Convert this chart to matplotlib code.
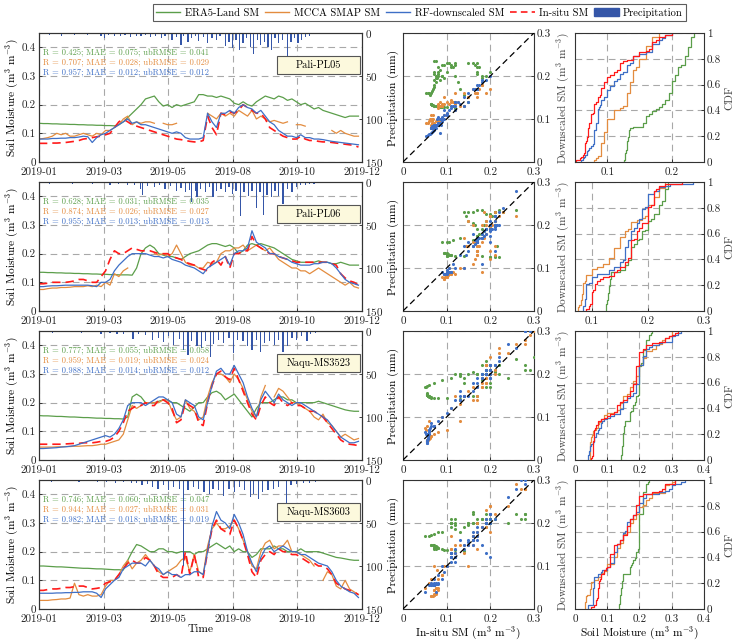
import numpy as np
import matplotlib
matplotlib.use("Agg")
import matplotlib.pyplot as plt
import matplotlib.dates as mdates
from matplotlib.patches import Patch, Rectangle
from matplotlib.lines import Line2D
from matplotlib.ticker import FuncFormatter

plt.rcParams['font.family'] = ['cmr10', 'DejaVu Serif']
plt.rcParams['mathtext.fontset'] = 'cm'
plt.rcParams['axes.formatter.use_mathtext'] = True
nan = np.nan

# ---- data (5-day samples) ----
dates = np.datetime64('2019-01-01') + np.arange(0, 365, 5)

stations = ['Pali-PL05', 'Pali-PL06', 'Naqu-MS3523', 'Naqu-MS3603']

era5_pl05 = [0.135, 0.134, 0.134, 0.133, 0.133, 0.132, 0.132, 0.131, 0.131, 0.130,
             0.130, 0.129, 0.129, 0.128, 0.128, 0.127, 0.127, 0.126, 0.130, 0.140,
             0.155, 0.170, 0.185, 0.200, 0.220, 0.225, 0.230, 0.210, 0.195, 0.200,
             0.190, 0.200, 0.195, 0.200, 0.205, 0.210, 0.235, 0.235, 0.230, 0.230,
             0.225, 0.230, 0.225, 0.220, 0.205, 0.200, 0.210, 0.200, 0.195, 0.210,
             0.220, 0.230, 0.225, 0.220, 0.230, 0.225, 0.215, 0.220, 0.210, 0.200,
             0.205, 0.195, 0.185, 0.190, 0.180, 0.175, 0.170, 0.165, 0.160, 0.155,
             0.160, 0.160, 0.160]
rf_pl05 = [0.080, 0.080, 0.080, 0.082, 0.082, 0.083, 0.083, 0.085, 0.085, 0.087,
           0.090, 0.088, 0.068, 0.085, 0.095, 0.100, 0.110, 0.120, 0.130, 0.140,
           0.150, 0.135, 0.140, 0.130, 0.130, 0.125, 0.120, 0.115, 0.110, 0.105,
           0.100, 0.105, 0.100, 0.085, 0.080, 0.080, 0.080, 0.085, 0.170, 0.140,
           0.120, 0.170, 0.170, 0.180, 0.170, 0.190, 0.200, 0.190, 0.185, 0.170,
           0.180, 0.160, 0.140, 0.130, 0.110, 0.100, 0.090, 0.090, 0.085, 0.095,
           0.085, 0.085, 0.080, 0.080, 0.078, 0.075, 0.072, 0.070, 0.068, 0.066,
           0.064, 0.062, 0.060]
insitu_pl05 = [0.065, 0.065, 0.065, 0.066, 0.066, 0.067, 0.068, 0.070, 0.072, 0.075,
               0.080, 0.082, 0.085, 0.088, 0.090, 0.095, 0.100, 0.120, 0.140, 0.150,
               0.140, 0.130, 0.125, 0.120, 0.115, 0.110, 0.105, 0.100, 0.095, 0.090,
               0.085, 0.080, 0.078, 0.075, 0.072, 0.070, 0.070, 0.075, 0.160, 0.120,
               0.095, 0.170, 0.165, 0.175, 0.170, 0.180, 0.200, 0.190, 0.180, 0.170,
               0.170, 0.150, 0.120, 0.110, 0.100, 0.090, 0.085, 0.080, 0.080, 0.090,
               0.080, 0.075, 0.075, 0.072, 0.070, 0.070, 0.068, 0.066, 0.064, 0.062,
               0.060, 0.058, 0.052]
mcca_pl05 = [0.080, 0.082, 0.085, 0.090, 0.100, 0.095, 0.100, 0.090, 0.090, 0.095,
             0.100, 0.095, 0.090, 0.100, 0.095, 0.110, 0.110, 0.120, 0.130, 0.150,
             0.160, 0.130, 0.140, 0.135, 0.140, 0.140, 0.135, nan, 0.135, 0.130,
             0.130, 0.135, nan, nan, nan, nan, nan, nan, 0.170, 0.160,
             0.150, 0.170, 0.160, 0.170, 0.160, 0.180, 0.170, 0.160, 0.180, 0.150,
             0.160, 0.150, 0.140, 0.145, 0.140, 0.135, 0.140, nan, 0.130, 0.130,
             0.125, nan, nan, nan, nan, nan, 0.110, 0.100, 0.110, 0.100,
             0.095, 0.090, 0.090]

era5_pl06 = [0.135, 0.135, 0.134, 0.134, 0.133, 0.133, 0.132, 0.132, 0.131, 0.131,
             0.130, 0.130, 0.129, 0.129, 0.128, 0.128, 0.127, 0.127, 0.126, 0.126,
             0.126, 0.125, 0.150, 0.200, 0.220, 0.230, 0.220, 0.200, 0.195, 0.190,
             0.190, 0.185, 0.180, 0.190, 0.200, 0.205, 0.210, 0.220, 0.230, 0.235,
             0.235, 0.230, 0.225, 0.230, 0.220, 0.200, 0.210, 0.230, 0.235, 0.230,
             0.235, 0.230, 0.225, 0.220, 0.210, 0.200, 0.190, 0.180, 0.175, 0.170,
             0.170, 0.170, 0.170, 0.175, 0.170, 0.170, 0.165, 0.165, 0.170, 0.165,
             0.160, 0.160, 0.160]
rf_pl06 = [0.085, 0.085, 0.087, 0.088, 0.088, 0.089, 0.090, 0.090, 0.090, 0.090,
           0.090, 0.090, 0.088, 0.085, 0.100, 0.100, 0.110, 0.140, 0.160, 0.175,
           0.190, 0.200, 0.200, 0.200, 0.200, 0.195, 0.190, 0.190, 0.185, 0.190,
           0.180, 0.175, 0.170, 0.160, 0.155, 0.150, 0.140, 0.130, 0.150, 0.160,
           0.170, 0.180, 0.190, 0.160, 0.200, 0.210, 0.210, 0.220, 0.280, 0.240,
           0.230, 0.220, 0.200, 0.200, 0.190, 0.185, 0.180, 0.170, 0.165, 0.160,
           0.160, 0.160, 0.165, 0.165, 0.170, 0.170, 0.165, 0.150, 0.130, 0.110,
           0.100, 0.095, 0.090]
insitu_pl06 = [0.095, 0.095, 0.097, 0.100, 0.100, 0.100, 0.100, 0.102, 0.105, 0.110,
               0.110, 0.105, 0.100, 0.100, 0.120, 0.140, 0.180, 0.210, 0.200, 0.200,
               0.210, 0.220, 0.215, 0.210, 0.210, 0.210, 0.205, 0.200, 0.200, 0.200,
               0.190, 0.185, 0.180, 0.170, 0.165, 0.160, 0.150, 0.145, 0.140, 0.170,
               0.180, 0.160, 0.190, 0.150, 0.200, 0.200, 0.210, 0.210, 0.260, 0.230,
               0.220, 0.210, 0.200, 0.200, 0.190, 0.185, 0.180, 0.175, 0.170, 0.170,
               0.170, 0.170, 0.170, 0.170, 0.170, 0.170, 0.165, 0.160, 0.130, 0.115,
               0.105, 0.100, 0.090]
mcca_pl06 = [0.075, 0.075, 0.078, 0.080, 0.080, 0.082, 0.082, 0.083, 0.085, 0.085,
             0.085, 0.088, 0.085, 0.090, 0.085, 0.100, 0.090, 0.130, 0.120, 0.140,
             0.150, nan, nan, nan, nan, nan, 0.200, 0.195, 0.200, 0.190,
             0.200, 0.230, 0.200, 0.170, 0.160, 0.160, 0.150, 0.150, 0.170, 0.165,
             0.170, 0.200, 0.210, 0.210, 0.220, 0.220, 0.230, 0.210, 0.220, 0.230,
             0.220, 0.210, 0.220, 0.200, 0.180, 0.170, 0.160, 0.150, 0.150, 0.140,
             0.140, 0.130, 0.140, 0.150, 0.140, 0.130, 0.120, 0.110, 0.100, 0.090,
             0.100, 0.085, 0.080]

era5_ms3523 = [0.155, 0.154, 0.154, 0.153, 0.152, 0.152, 0.151, 0.150, 0.150, 0.149,
               0.148, 0.148, 0.147, 0.146, 0.146, 0.145, 0.145, 0.144, 0.144, 0.143,
               0.150, 0.220, 0.230, 0.220, 0.200, 0.200, 0.200, 0.205, 0.210, 0.210,
               0.200, 0.200, 0.190, 0.180, 0.170, 0.185, 0.200, 0.200, 0.220, 0.235,
               0.240, 0.230, 0.210, 0.220, 0.230, 0.210, 0.190, 0.170, 0.150, 0.180,
               0.200, 0.200, 0.200, 0.210, 0.220, 0.220, 0.210, 0.210, 0.200, 0.200,
               0.200, 0.200, 0.200, 0.205, 0.200, 0.195, 0.190, 0.185, 0.180, 0.175,
               0.172, 0.170, 0.170]
rf_ms3523 = [0.040, 0.040, 0.041, 0.042, 0.043, 0.045, 0.046, 0.048, 0.050, 0.055,
             0.060, 0.065, 0.070, 0.075, 0.080, 0.085, 0.080, 0.090, 0.110, 0.140,
             0.190, 0.200, 0.200, 0.200, 0.190, 0.200, 0.210, 0.220, 0.220, 0.210,
             0.200, 0.160, 0.150, 0.210, 0.200, 0.190, 0.150, 0.140, 0.200, 0.260,
             0.310, 0.320, 0.300, 0.300, 0.330, 0.300, 0.270, 0.220, 0.180, 0.150,
             0.210, 0.240, 0.220, 0.200, 0.230, 0.210, 0.200, 0.190, 0.200, 0.200,
             0.190, 0.180, 0.170, 0.160, 0.150, 0.140, 0.120, 0.100, 0.080, 0.070,
             0.060, 0.060, 0.065]
insitu_ms3523 = [0.055, 0.055, 0.055, 0.055, 0.055, 0.055, 0.056, 0.057, 0.058, 0.058,
                 0.060, 0.060, 0.060, 0.062, 0.065, 0.065, 0.070, 0.080, 0.100, 0.130,
                 0.170, 0.180, 0.190, 0.190, 0.200, 0.190, 0.190, 0.210, 0.210, 0.200,
                 0.180, 0.130, 0.140, 0.200, 0.190, 0.180, 0.130, 0.120, 0.200, 0.260,
                 0.300, 0.310, 0.290, 0.280, 0.320, 0.280, 0.240, 0.200, 0.160, 0.140,
                 0.190, 0.220, 0.200, 0.190, 0.220, 0.200, 0.190, 0.200, 0.190, 0.190,
                 0.180, 0.170, 0.170, 0.160, 0.150, 0.130, 0.110, 0.090, 0.070, 0.060,
                 0.055, 0.053, 0.050]
mcca_ms3523 = [0.045, 0.045, 0.045, 0.045, 0.046, 0.046, 0.047, 0.047, 0.048, 0.048,
               0.049, 0.050, 0.050, 0.052, 0.055, 0.055, 0.060, 0.065, 0.070, 0.090,
               0.140, 0.190, 0.180, 0.190, 0.200, 0.200, 0.200, 0.200, 0.210, 0.210,
               0.170, 0.140, 0.150, 0.210, 0.180, 0.170, 0.140, 0.150, 0.220, 0.270,
               0.300, 0.300, 0.290, 0.270, 0.300, 0.280, 0.250, 0.210, 0.170, 0.150,
               0.220, 0.260, nan, 0.220, 0.250, 0.240, 0.220, 0.200, 0.200, 0.190,
               0.180, 0.170, 0.150, 0.140, 0.160, 0.130, 0.120, 0.100, 0.080, 0.090,
               0.080, 0.070, 0.075]

era5_ms3603 = [0.150, 0.150, 0.149, 0.148, 0.147, 0.147, 0.146, 0.145, 0.144, 0.143,
               0.142, 0.142, 0.141, 0.140, 0.140, 0.139, 0.138, 0.137, 0.137, 0.136,
               0.170, 0.200, 0.225, 0.220, 0.210, 0.200, 0.200, 0.210, 0.210, 0.200,
               0.200, 0.195, 0.200, 0.200, 0.200, 0.190, 0.200, 0.200, 0.210, 0.220,
               0.230, 0.220, 0.210, 0.220, 0.200, 0.210, 0.200, 0.200, 0.180, 0.190,
               0.210, 0.210, 0.210, 0.220, 0.210, 0.210, 0.200, 0.200, 0.200, 0.210,
               0.200, 0.200, 0.200, 0.200, 0.195, 0.190, 0.185, 0.180, 0.178, 0.175,
               0.172, 0.170, 0.170]
rf_ms3603 = [0.055, 0.055, 0.055, 0.055, 0.056, 0.056, 0.057, 0.057, 0.058, 0.058,
             0.060, 0.060, 0.060, 0.055, 0.040, 0.070, 0.085, 0.100, 0.110, 0.140,
             0.150, 0.160, 0.160, 0.160, 0.150, 0.170, 0.150, 0.140, 0.120, 0.130,
             0.120, 0.120, 0.110, 0.120, 0.120, 0.130, 0.130, 0.120, 0.200, 0.290,
             0.340, 0.310, 0.300, 0.280, 0.330, 0.300, 0.260, 0.200, 0.160, 0.130,
             0.180, 0.210, 0.220, 0.200, 0.210, 0.220, 0.210, 0.200, 0.200, 0.190,
             0.190, 0.180, 0.170, 0.160, 0.155, 0.150, 0.130, 0.100, 0.080, 0.070,
             0.060, 0.055, 0.040]
insitu_ms3603 = [0.065, 0.065, 0.068, 0.070, 0.070, 0.072, 0.075, 0.075, 0.078, 0.080,
                 0.080, 0.075, 0.070, 0.072, 0.075, 0.090, 0.095, 0.100, 0.120, 0.140,
                 0.160, 0.170, 0.160, 0.160, 0.180, 0.170, 0.150, 0.120, 0.110, 0.110,
                 0.110, 0.120, 0.110, 0.200, 0.120, 0.190, 0.110, 0.110, 0.200, 0.280,
                 0.310, 0.280, 0.270, 0.260, 0.310, 0.280, 0.240, 0.190, 0.130, 0.110,
                 0.170, 0.190, 0.200, 0.190, 0.210, 0.200, 0.200, 0.190, 0.190, 0.180,
                 0.170, 0.160, 0.160, 0.150, 0.150, 0.140, 0.120, 0.090, 0.080, 0.070,
                 0.065, 0.060, 0.050]
mcca_ms3603 = [0.030, 0.030, 0.030, 0.032, 0.033, 0.035, 0.035, 0.038, 0.090, 0.050,
               0.045, 0.050, 0.045, 0.045, 0.050, 0.080, 0.100, 0.100, 0.120, 0.150,
               0.170, 0.140, 0.160, 0.170, 0.190, 0.170, 0.150, 0.130, 0.120, 0.130,
               0.140, 0.150, 0.170, 0.180, 0.130, 0.190, 0.130, 0.120, 0.220, 0.280,
               0.300, 0.280, 0.280, 0.290, 0.310, 0.280, 0.240, 0.200, 0.150, 0.140,
               0.200, 0.230, 0.240, 0.210, 0.220, 0.220, 0.240, 0.200, 0.200, 0.190,
               0.180, 0.170, 0.150, nan, 0.100, 0.130, 0.120, 0.080, 0.070, 0.100,
               0.070, 0.060, 0.050]

# precipitation: day of year (0 = 1 Jan) and amount in mm
rain_day_pl05 = [8, 12, 18, 25, 30, 40, 47, 55, 62, 70, 74, 78, 85, 92, 97, 103, 110, 115, 120, 126,
                 131, 138, 142, 150, 155, 160, 163, 168, 172, 176, 180, 185, 190, 195, 200, 204, 210,
                 214, 218, 222, 226, 230, 234, 238, 242, 246, 250, 254, 258, 262, 266, 270, 274, 280,
                 284, 288, 292, 296, 300, 305]
rain_mm_pl05 = [1, 2, 1, 3, 1, 2, 1, 2, 1, 3, 6, 2, 3, 4, 2, 5, 3, 4, 2, 5,
                3, 6, 3, 8, 5, 14, 4, 10, 6, 4, 9, 5, 12, 6, 8, 4, 15,
                10, 18, 8, 20, 12, 6, 16, 24, 8, 14, 10, 16, 20, 6, 12, 8, 27,
                10, 6, 12, 8, 5, 3]
rain_day_pl06 = [5, 12, 20, 28, 38, 50, 60, 68, 80, 90, 100, 108, 114, 117, 122, 130, 136, 142, 148,
                 155, 160, 165, 170, 172, 176, 178, 182, 188, 192, 196, 200, 205, 210, 214, 218, 222,
                 227, 231, 236, 240, 245, 249, 253, 257, 262, 266, 270, 275, 280, 285, 290, 295, 300,
                 305, 310]
rain_mm_pl06 = [1, 2, 1, 1, 2, 1, 2, 1, 3, 2, 4, 3, 8, 15, 5, 6, 4, 8, 5,
                10, 7, 12, 9, 23, 10, 18, 8, 12, 6, 17, 10, 8, 12, 6, 14, 10,
                40, 12, 16, 10, 30, 12, 38, 15, 18, 10, 16, 25, 8, 12, 6, 4, 3,
                2, 2]
rain_day_ms3523 = [6, 15, 25, 35, 48, 58, 70, 80, 88, 95, 106, 112, 120, 128, 135, 140, 146, 152,
                   158, 163, 168, 172, 178, 183, 188, 193, 197, 202, 208, 214, 219, 224, 230, 235,
                   240, 245, 250, 254, 260, 265, 270, 275, 280, 285, 290, 296, 302, 306, 312]
rain_mm_ms3523 = [1, 2, 1, 1, 2, 1, 3, 2, 4, 3, 9, 4, 5, 10, 8, 13, 6, 16,
                  9, 22, 28, 12, 18, 20, 12, 30, 15, 10, 14, 8, 26, 10, 12, 18,
                  22, 10, 24, 14, 12, 16, 10, 24, 18, 8, 10, 6, 12, 4, 2]
rain_day_ms3603 = [5, 14, 24, 34, 45, 55, 66, 76, 86, 95, 104, 110, 116, 122, 128, 134, 140, 146,
                   152, 158, 163, 168, 174, 180, 186, 192, 196, 202, 208, 214, 220, 226, 232, 238,
                   242, 247, 252, 258, 264, 270, 279, 284, 290, 298, 305, 312, 325]
rain_mm_ms3603 = [1, 2, 1, 1, 2, 1, 2, 2, 3, 2, 4, 3, 6, 5, 8, 10, 6, 12,
                  8, 10, 100, 12, 8, 10, 14, 16, 10, 12, 18, 10, 14, 8, 12, 20,
                  16, 22, 14, 12, 10, 8, 27, 6, 5, 4, 3, 2, 1]

stats = [
    ['R = 0.425; MAE = 0.075; ubRMSE = 0.041', 'R = 0.707; MAE = 0.028; ubRMSE = 0.029',
     'R = 0.957; MAE = 0.012; ubRMSE = 0.012'],
    ['R = 0.628; MAE = 0.031; ubRMSE = 0.035', 'R = 0.874; MAE = 0.026; ubRMSE = 0.027',
     'R = 0.955; MAE = 0.013; ubRMSE = 0.013'],
    ['R = 0.777; MAE = 0.055; ubRMSE = 0.058', 'R = 0.959; MAE = 0.019; ubRMSE = 0.024',
     'R = 0.988; MAE = 0.014; ubRMSE = 0.012'],
    ['R = 0.746; MAE = 0.060; ubRMSE = 0.047', 'R = 0.944; MAE = 0.027; ubRMSE = 0.031',
     'R = 0.982; MAE = 0.018; ubRMSE = 0.019'],
]

era5_all = [era5_pl05, era5_pl06, era5_ms3523, era5_ms3603]
mcca_all = [mcca_pl05, mcca_pl06, mcca_ms3523, mcca_ms3603]
rf_all = [rf_pl05, rf_pl06, rf_ms3523, rf_ms3603]
insitu_all = [insitu_pl05, insitu_pl06, insitu_ms3523, insitu_ms3603]
rain_days = [rain_day_pl05, rain_day_pl06, rain_day_ms3523, rain_day_ms3603]
rain_mm = [rain_mm_pl05, rain_mm_pl06, rain_mm_ms3523, rain_mm_ms3603]

cdf_xlim = [(0.05, 0.25), (0.07, 0.3), (0, 0.4), (0, 0.4)]
cdf_xticks = [[0.1, 0.2], [0.1, 0.2, 0.3], [0, 0.1, 0.2, 0.3, 0.4], [0, 0.1, 0.2, 0.3, 0.4]]

# ---- style ----
c_era5 = '#5b9e4a'
c_mcca = '#e38c3f'
c_rf = '#3e6fc6'
c_insitu = '#ff1a1a'
c_rain = '#3556a8'
grid_kw = dict(color='#a8a8a8', linestyle=(0, (6, 4)), linewidth=0.8)
tick_fs = 8
lab_fs = 8.2
fmt = FuncFormatter(lambda v, p: '%g' % round(v, 3))

fig = plt.figure(figsize=(7.37, 6.42), dpi=100)
bottoms = [0.7477, 0.5156, 0.2835, 0.0514]
h = 0.2009

t0 = np.datetime64('2019-01-01')
t1 = np.datetime64('2019-12-31')
xticks = np.linspace(mdates.date2num(t0), mdates.date2num(t1), 6)


def style_ax(ax, xpad=4):
    ax.tick_params(labelsize=tick_fs, direction='in', length=2.5, width=0.6,
                   colors='#222222', pad=2)
    ax.tick_params(axis='x', pad=xpad)
    for s in ax.spines.values():
        s.set_linewidth(0.8)
        s.set_color('#333333')


for r in range(4):
    b = bottoms[r]
    ins = np.array(insitu_all[r], dtype=float)

    # time series
    ax = fig.add_axes([0.0529, b, 0.4383, h])
    ax.plot(dates, era5_all[r], color=c_era5, lw=0.9, zorder=3)
    ax.plot(dates, mcca_all[r], color=c_mcca, lw=0.9, zorder=3)
    ax.plot(dates, ins, color=c_insitu, lw=1.2, ls=(0, (5, 3)), zorder=4)
    ax.plot(dates, rf_all[r], color=c_rf, lw=0.9, zorder=5)
    ax.set_xlim(t0, t1)
    ax.set_ylim(0, 0.45)
    ax.set_xticks(xticks)
    ax.xaxis.set_major_formatter(mdates.DateFormatter('%Y-%m'))
    ax.set_yticks([0, 0.1, 0.2, 0.3, 0.4])
    ax.yaxis.set_major_formatter(fmt)
    ax.grid(True, **grid_kw)
    style_ax(ax)
    ax.set_ylabel('Soil Moisture (m$^3$ m$^{-3}$)', fontsize=lab_fs, labelpad=1)
    for k, col in enumerate([c_era5, c_mcca, c_rf]):
        ax.text(0.013, 0.845 - k * 0.077, stats[r][k], transform=ax.transAxes,
                color=col, fontsize=6.1, va='center', ha='left', zorder=6)
    ax.add_patch(Rectangle((0.737, 0.685), 0.256, 0.135, transform=ax.transAxes,
                           facecolor='#fcf9dd', edgecolor='#555555', lw=0.8, zorder=7))
    ax.text(0.865, 0.7525, stations[r], transform=ax.transAxes, fontsize=7.5,
            ha='center', va='center', zorder=8)
    if r == 3:
        ax.set_xlabel('Time', fontsize=lab_fs, labelpad=0.5)

    axp = ax.twinx()
    rain_dates = t0 + np.array(rain_days[r])
    axp.bar(rain_dates, rain_mm[r], width=1.4, color=c_rain, linewidth=0)
    axp.set_ylim(150, 0)
    axp.set_yticks([0, 50, 100, 150])
    axp.set_xlim(t0, t1)
    style_ax(axp)
    axp.set_ylabel('Precipitation (mm)', fontsize=lab_fs, labelpad=3)

    # scatter
    axs = fig.add_axes([0.5468, b, 0.1777, h])
    for ser, col in [(era5_all[r], c_era5), (mcca_all[r], c_mcca), (rf_all[r], c_rf)]:
        y = np.array(ser, dtype=float)
        ok = ~np.isnan(y) & ~np.isnan(ins)
        axs.scatter(ins[ok], y[ok], s=5, color=col, linewidths=0, zorder=3)
    axs.plot([0, 0.3], [0, 0.3], color='black', ls=(0, (5, 3)), lw=0.9, zorder=4)
    axs.set_xlim(0, 0.3)
    axs.set_ylim(0, 0.3)
    axs.set_xticks([0, 0.1, 0.2, 0.3])
    axs.set_yticks([0, 0.1, 0.2, 0.3])
    axs.xaxis.set_major_formatter(fmt)
    axs.yaxis.set_major_formatter(fmt)
    axs.yaxis.tick_right()
    axs.yaxis.set_label_position('right')
    axs.grid(True, **grid_kw)
    style_ax(axs)
    axs.set_ylabel('Downscaled SM (m$^3$ m$^{-3}$)', fontsize=lab_fs, color='#444444',
                   labelpad=3)
    if r == 3:
        axs.set_xlabel('In-situ SM (m$^3$ m$^{-3}$)', fontsize=lab_fs, labelpad=0.3)

    # CDF
    axc = fig.add_axes([0.7802, b, 0.175, h])
    for ser, col in [(era5_all[r], c_era5), (mcca_all[r], c_mcca),
                     (rf_all[r], c_rf), (insitu_all[r], c_insitu)]:
        v = np.array(ser, dtype=float)
        v = np.sort(v[~np.isnan(v)])
        p = np.arange(1, len(v) + 1) / len(v)
        axc.plot(np.r_[v[0], v], np.r_[0, p], color=col, lw=0.9, drawstyle='steps-post')
    axc.set_xlim(*cdf_xlim[r])
    axc.set_ylim(0, 1)
    axc.set_xticks(cdf_xticks[r])
    axc.set_yticks([0, 0.2, 0.4, 0.6, 0.8, 1])
    axc.xaxis.set_major_formatter(fmt)
    axc.yaxis.set_major_formatter(fmt)
    axc.yaxis.tick_right()
    axc.yaxis.set_label_position('right')
    axc.grid(True, **grid_kw)
    style_ax(axc)
    axc.set_ylabel('CDF', fontsize=lab_fs, color='#444444', labelpad=3)
    if r == 3:
        axc.set_xlabel('Soil Moisture (m$^3$ m$^{-3}$)', fontsize=lab_fs, labelpad=0.3)

handles = [Line2D([], [], color=c_era5, lw=1.0),
           Line2D([], [], color=c_mcca, lw=1.0),
           Line2D([], [], color=c_rf, lw=1.0),
           Line2D([], [], color=c_insitu, lw=1.2, ls=(0, (4, 2.5))),
           Patch(facecolor=c_rain, edgecolor=c_rain)]
labels = ['ERA5-Land SM', 'MCCA SMAP SM', 'RF-downscaled SM', 'In-situ SM', 'Precipitation']
leg = fig.legend(handles, labels, loc='center', bbox_to_anchor=(0.569, 0.9805), ncol=5,
                 fontsize=7.6, frameon=True, fancybox=False, edgecolor='#333333',
                 handlelength=2.3, handletextpad=0.4, columnspacing=0.6,
                 borderpad=0.3)
leg.get_frame().set_linewidth(0.8)

fig.savefig('out.png', dpi=100)
